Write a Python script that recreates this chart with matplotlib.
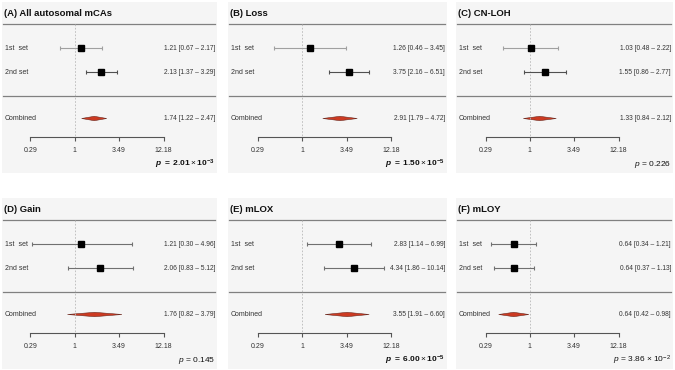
import numpy as np
import matplotlib
matplotlib.use("Agg")
import matplotlib.pyplot as plt
from matplotlib.patches import Polygon

plt.rcParams['font.family'] = ['Liberation Sans', 'DejaVu Sans']
plt.rcParams['mathtext.fontset'] = 'custom'
plt.rcParams['mathtext.rm'] = 'Liberation Sans'
plt.rcParams['mathtext.it'] = 'Liberation Sans:italic'
plt.rcParams['mathtext.bf'] = 'Liberation Sans:bold'
plt.rcParams['mathtext.bfit'] = 'Liberation Sans:bold:italic'

# ---------------- data ----------------
titles = ['(A) All autosomal mCAs', '(B) Loss', '(C) CN-LOH',
          '(D) Gain', '(E) mLOX', '(F) mLOY']
row_labels = ['1st  set', '2nd set']
comb_label = 'Combined'
set1_or = [1.21, 1.26, 1.03, 1.21, 2.83, 0.64]
set1_lo = [0.67, 0.46, 0.48, 0.30, 1.14, 0.34]
set1_hi = [2.17, 3.45, 2.22, 4.96, 6.99, 1.21]
set2_or = [2.13, 3.75, 1.55, 2.06, 4.34, 0.64]
set2_lo = [1.37, 2.16, 0.86, 0.83, 1.86, 0.37]
set2_hi = [3.29, 6.51, 2.77, 5.12, 10.14, 1.13]
comb_or = [1.74, 2.91, 1.33, 1.76, 3.55, 0.64]
comb_lo = [1.22, 1.79, 0.84, 0.82, 1.91, 0.42]
comb_hi = [2.47, 4.72, 2.12, 3.79, 6.60, 0.98]
p_values = [2.01e-3, 1.50e-5, 0.226, 0.145, 6.00e-5, 3.86e-2]
p_bold = [True, True, False, False, True, False]
tick_values = [0.29, 1, 3.49, 12.18]
tick_labels = ['0.29', '1', '3.49', '12.18']

# ---------------- layout (pixels) ----------------
W, H = 675, 370
panel_left = [2, 228, 456]
panel_ws = [215, 219, 217]
panel_top = [2, 198]
panel_h = 171
tick_px = [(28.5, 161.5), (30, 163), (29.5, 162.5)]   # x pixel of first/last tick
y_title, y_top_line, y_rows, y_mid_line = 11, 22, [46, 70], 94
y_comb, y_axis, y_p = 116.5, 135, 162
set1_colors = ['#a0a0a0', '#a0a0a0', '#a0a0a0', '#707070', '#707070', '#707070']
set2_colors = ['#505050', '#505050', '#505050', '#707070', '#707070', '#707070']

def fmt_ci(o, l, h):
    return f'{o:.2f} [{l:.2f} \u2013 {h:.2f}]'

def fmt_p(p, bold):
    if p >= 0.1:
        s = f'{p:.3f}'
        return r'$\mathbfit{p}\ \mathbf{=\ ' + s + '}$' if bold else r'$\mathit{p}$ = ' + s
    m, e = f'{p:.2e}'.split('e')
    e = int(e)
    if bold:
        return (r'$\mathbfit{p}\ \mathbf{=\ ' + m + r'}\times\mathbf{10^{' + str(e) + '}}$')
    return r'$\mathit{p}$ = ' + m + r' $\times$ 10$^{' + str(e) + '}$'

fig = plt.figure(figsize=(W / 100, H / 100), dpi=100)
fig.patch.set_facecolor('white')

lt0, lt1 = np.log10(tick_values[0]), np.log10(tick_values[-1])

for i in range(6):
    r, c = divmod(i, 3)
    x0 = panel_left[c]
    pw = panel_ws[c]
    y0 = panel_top[r]
    t0, t1 = tick_px[c]
    ppd = (t1 - t0) / (lt1 - lt0)
    xmin = 10 ** (lt0 - t0 / ppd)
    xmax = 10 ** (lt1 + (pw - t1) / ppd)

    ax = fig.add_axes([x0 / W, 1 - (y0 + panel_h) / H, pw / W, panel_h / H])
    ax.set_facecolor('#f5f5f5')
    ax.set_xscale('log')
    ax.set_xlim(xmin, xmax)
    ax.set_ylim(panel_h, 0)
    for s in ['top', 'left', 'right']:
        ax.spines[s].set_visible(False)
    ax.spines['bottom'].set_position(('data', y_axis))
    ax.spines['bottom'].set_bounds(tick_values[0], tick_values[-1])
    ax.spines['bottom'].set_color('#555555')
    ax.spines['bottom'].set_linewidth(0.8)
    ax.set_yticks([])
    ax.set_xticks(tick_values)
    ax.set_xticklabels(tick_labels)
    ax.minorticks_off()
    ax.tick_params(axis='x', direction='out', length=3, width=0.8, color='#555555',
                   labelsize=5, labelcolor='#333333', pad=4)

    tr = ax.get_yaxis_transform()
    # title
    ax.text(2 / pw, y_title, titles[i], transform=tr,
            fontsize=6.8, fontweight='bold', color='#111111', va='center', ha='left')
    # separator lines
    for yl in (y_top_line, y_mid_line):
        ax.axhline(yl, xmin=1 / pw, xmax=(pw - 2) / pw, color='#808080', lw=0.9)
    # reference line
    ax.vlines(1, y_top_line, y_axis, colors='#b8b8b8', linestyles=(0, (2, 2)), lw=0.6)

    rows = [(set1_or[i], set1_lo[i], set1_hi[i], set1_colors[i]),
            (set2_or[i], set2_lo[i], set2_hi[i], set2_colors[i])]
    for (o, l, h, col), yr, lab in zip(rows, y_rows, row_labels):
        ax.errorbar([o], [yr], xerr=[[o - l], [h - o]], fmt='s', color='black',
                    ms=3.8, ecolor=col, elinewidth=0.8, capsize=1.3, capthick=0.8)
        ax.text(3 / pw, yr, lab, transform=tr,
                fontsize=5, color='#333333', va='center', ha='left')
        ax.text((pw - 2) / pw, yr, fmt_ci(o, l, h), transform=tr,
                fontsize=4.8, color='#333333', va='center', ha='right')

    # combined diamond
    hh = 2.2
    dia = Polygon([[comb_lo[i], y_comb], [comb_or[i], y_comb - hh],
                   [comb_hi[i], y_comb], [comb_or[i], y_comb + hh]],
                  closed=True, facecolor='#cc3a22', edgecolor='#6a2a20', lw=0.4)
    ax.add_patch(dia)
    ax.text(3 / pw, y_comb, comb_label, transform=tr,
            fontsize=5, color='#333333', va='center', ha='left')
    ax.text((pw - 2) / pw, y_comb, fmt_ci(comb_or[i], comb_lo[i], comb_hi[i]),
            transform=tr, fontsize=4.8, color='#333333', va='center', ha='right')

    # p value
    ax.text((pw - 2) / pw, y_p, fmt_p(p_values[i], p_bold[i]),
            transform=tr, fontsize=6, color='#111111', va='center', ha='right')

fig.savefig('out.png', dpi=100, facecolor='white')
